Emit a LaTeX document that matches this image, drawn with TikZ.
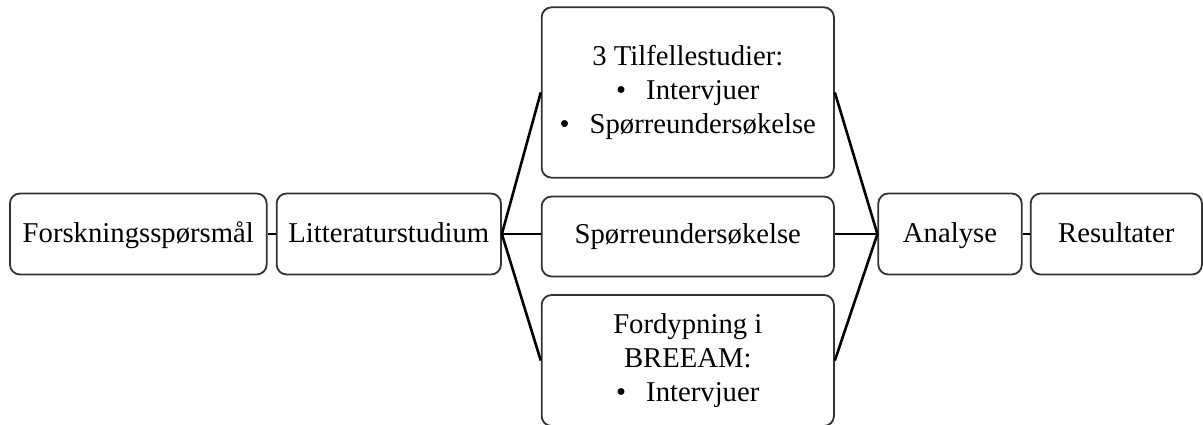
\documentclass[tikz,border=0pt]{standalone}
\usepackage{fontspec}
\setmainfont{Liberation Serif}
\begin{document}
\begin{tikzpicture}[x=1pt,y=-1pt,
  stage/.style={draw=black!80, line width=1.8pt, rounded corners=10pt,
    rectangle, inner sep=0pt, align=center, text=black,
    font=\fontsize{28.7pt}{33.7pt}\selectfont},
  oneline/.style={text height=22pt, text depth=4pt},
  link/.style={draw=black, line width=2.6pt}]
  \useasboundingbox (0,0) rectangle (1203,425);
  \fill[white] (0,0) rectangle (1203,425);
  \clip (0,0) rectangle (1203,425);

  % main row
  \node[stage, oneline, minimum width=256.7pt, minimum height=81pt] (fs) at (138.3,234) {Forskningsspørsmål};
  \node[stage, oneline, minimum width=224.3pt, minimum height=81pt] (lit) at (388.8,234) {Litteraturstudium};
  \node[stage, oneline, minimum width=143.4pt, minimum height=81pt] (ana) at (950,234) {Analyse};
  \node[stage, oneline, minimum width=171.3pt, minimum height=81pt] (res) at (1116.3,234) {Resultater};

  % three parallel methods
  \node[stage, minimum width=292.3pt, minimum height=170.4pt] (case) at (687.8,92.5)
    {3 Tilfellestudier:\\ \textbullet\hspace{20pt}Intervjuer\\ \textbullet\hspace{20pt}Spørreundersøkelse};
  \node[stage, text height=20pt, text depth=6pt, minimum width=292.3pt, minimum height=80pt] (survey) at (687.8,236.5) {Spørreundersøkelse};
  \node[stage, minimum width=292.3pt, minimum height=131pt] (bre) at (687.8,360.5)
    {Fordypning i\\ BREEAM:\\ \textbullet\hspace{20pt}Intervjuer};

  % connectors
  \draw[link] (fs.east) -- (lit.west);
  \draw[link] (lit.east) -- (case.west);
  \draw[link] (lit.east) -- (lit.east -| survey.west);
  \draw[link] (lit.east) -- (bre.west);
  \draw[link] (case.east) -- (ana.west);
  \draw[link] (ana.west -| survey.east) -- (ana.west);
  \draw[link] (bre.east) -- (ana.west);
  \draw[link] (ana.east) -- (res.west);
\end{tikzpicture}
\end{document}
